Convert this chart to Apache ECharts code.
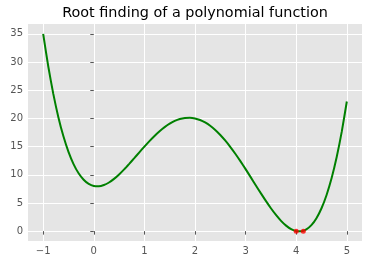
<!DOCTYPE html>
<html>
<head>
<meta charset="utf-8">
<script src="https://cdn.jsdelivr.net/npm/echarts@6/dist/echarts.min.js"></script>
<style>html,body{margin:0;padding:0;background:#fff}#c{width:368px;height:265px}</style>
</head>
<body>
<div id="c"></div>
<script>
const xValues = [-1.0,-0.9,-0.8,-0.7,-0.6,-0.5,-0.4,-0.3,-0.2,-0.1,0.0,0.1,0.2,0.3,0.4,0.5,0.6,0.7,0.8,0.9,1.0,1.1,1.2,1.3,1.4,1.5,1.6,1.7,1.8,1.9,2.0,2.1,2.2,2.3,2.4,2.5,2.6,2.7,2.8,2.9,3.0,3.1,3.2,3.3,3.4,3.5,3.6,3.7,3.8,3.9,4.0,4.1,4.2,4.3,4.4,4.5,4.6,4.7,4.8,4.9,5.0];
const yValues = [35,29.25,24.35,20.22,16.82,14.06,11.90,10.26,9.11,8.37,8,7.95,8.18,8.63,9.27,10.06,10.96,11.94,12.95,13.98,15,15.98,16.89,17.72,18.45,19.06,19.55,19.89,20.08,20.12,20,19.72,19.28,18.69,17.95,17.06,16.05,14.92,13.69,12.38,11,9.58,8.15,6.74,5.36,4.06,2.87,1.83,0.98,0.35,0,-0.03,0.31,1.06,2.30,4.06,6.42,9.42,13.15,17.65,23];
const rootsX = [4.0, 4.14];
const rootsY = [0, 0];
const xTicks = [-1,0,1,2,3,4,5];
const yTicks = [0,5,10,15,20,25,30,35];
const titleText = 'Root finding of a polynomial function';

const chart = echarts.init(document.getElementById('c'), null, {renderer:'canvas'});
const font = 'DejaVu Sans';
chart.setOption({
  animation:false,
  backgroundColor:'#ffffff',
  graphic:[{type:'text',x:195,y:13,style:{text:titleText,font:'14.4px "DejaVu Sans"',fill:'#000',align:'center',verticalAlign:'middle'}}],
  grid:{left:28,right:6,top:24,bottom:24,show:true,backgroundColor:'#E5E5E5',borderWidth:0},
  xAxis:{type:'value',min:-1.3,max:5.3,
    axisLine:{show:false},
    axisTick:{show:true,length:3.5,lineStyle:{color:'#555'},customValues:xTicks},
    axisLabel:{customValues:xTicks,color:'#555',fontFamily:font,fontSize:10,margin:5,
      formatter:v=>String(v).replace('-','\u2212')},
    splitLine:{show:true,lineStyle:{color:'#fff',width:1}}},
  yAxis:{type:'value',min:-1.75,max:36.75,
    axisLine:{show:false},
    axisTick:{show:true,length:3.5,lineStyle:{color:'#555'},customValues:yTicks},
    axisLabel:{customValues:yTicks,color:'#555',fontFamily:font,fontSize:10,margin:5},
    splitLine:{show:true,lineStyle:{color:'#fff',width:1}}},
  series:[
    {type:'line',data:xValues.map((x,i)=>[x,yValues[i]]),showSymbol:false,smooth:0.2,
      lineStyle:{color:'#008000',width:2},z:2},
    {type:'scatter',data:rootsX.map((x,i)=>[x,rootsY[i]]),symbol:'circle',symbolSize:5,
      itemStyle:{color:'#ff0000'},z:3}
  ]
});
</script>
</body>
</html>
